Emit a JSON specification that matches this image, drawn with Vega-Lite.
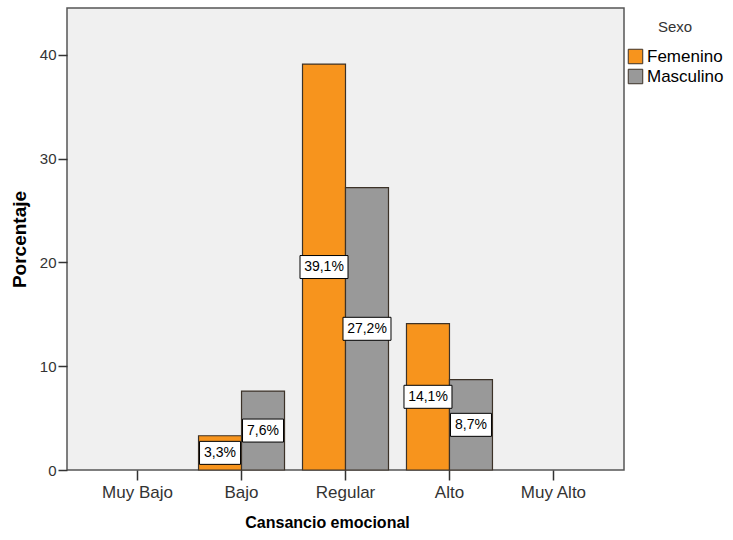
{
  "$schema": "https://vega.github.io/schema/vega-lite/v6.json",
  "width": 557,
  "height": 462,
  "autosize": "none",
  "padding": {"left": 67, "top": 8, "right": 109, "bottom": 70},
  "background": "white",
  "config": {
    "view": {"fill": "#f0f0f0", "stroke": "#555555", "strokeWidth": 1.5},
    "font": "Liberation Sans"
  },
  "data": {
    "values": [
      {"nivel": "Bajo", "sexo": "Femenino", "pct": 3.3, "label": "3,3%"},
      {"nivel": "Bajo", "sexo": "Masculino", "pct": 7.6, "label": "7,6%"},
      {"nivel": "Regular", "sexo": "Femenino", "pct": 39.1, "label": "39,1%"},
      {"nivel": "Regular", "sexo": "Masculino", "pct": 27.2, "label": "27,2%"},
      {"nivel": "Alto", "sexo": "Femenino", "pct": 14.1, "label": "14,1%"},
      {"nivel": "Alto", "sexo": "Masculino", "pct": 8.7, "label": "8,7%"}
    ]
  },
  "encoding": {
    "x": {
      "field": "nivel",
      "type": "nominal",
      "scale": {
        "domain": ["Muy Bajo", "Bajo", "Regular", "Alto", "Muy Alto"],
        "paddingInner": 0.173,
        "paddingOuter": 0.265
      },
      "axis": {
        "title": "Cansancio emocional",
        "titleFontSize": 16,
        "titleFontWeight": "bold",
        "titleColor": "#000000",
        "titlePadding": 14,
        "titleX": 260,
        "titleAlign": "center",
        "labelAngle": 0,
        "labelFontSize": 17,
        "labelColor": "#333333",
        "labelPadding": 4,
        "tickSize": 10,
        "tickColor": "#333333",
        "tickWidth": 1.5,
        "domain": false
      }
    },
    "xOffset": {"field": "sexo", "scale": {"paddingInner": 0, "paddingOuter": 0}}
  },
  "layer": [
    {
      "mark": {"type": "bar", "stroke": "#3c3228", "strokeWidth": 1.2},
      "encoding": {
        "y": {
          "field": "pct",
          "type": "quantitative",
          "scale": {"domain": [0, 44.5], "nice": false},
          "axis": {
            "title": "Porcentaje",
            "titleFontSize": 19,
            "titleFontWeight": "bold",
            "titleColor": "#000000",
            "titlePadding": 10,
            "values": [0, 10, 20, 30, 40],
            "grid": false,
            "domain": false,
            "labelFontSize": 15,
            "labelColor": "#333333",
            "labelPadding": 2,
            "tickSize": 9,
            "tickColor": "#333333",
            "tickWidth": 1.5
          }
        },
        "color": {
          "field": "sexo",
          "type": "nominal",
          "scale": {"domain": ["Femenino", "Masculino"], "range": ["#f7941d", "#999999"]},
          "legend": {
            "title": "Sexo",
            "orient": "none",
            "legendX": 560,
            "legendY": 12,
            "titleFontWeight": "normal",
            "titleFontSize": 15,
            "titleColor": "#333333",
            "titleAnchor": "middle",
            "titlePadding": 13,
            "labelFontSize": 17,
            "labelColor": "#000000",
            "labelOffset": 3,
            "symbolType": "square",
            "symbolSize": 210,
            "symbolStrokeColor": "#3c3228",
            "symbolStrokeWidth": 1,
            "symbolOpacity": 1,
            "rowPadding": 1
          }
        }
      }
    },
    {
      "mark": {"type": "point", "filled": true, "fill": "white", "stroke": "black", "strokeWidth": 1, "opacity": 1, "size": 400},
      "encoding": {
        "y": {"field": "pct", "type": "quantitative", "scale": {"domain": [0, 89], "nice": false}, "axis": null},
        "shape": {
          "field": "label",
          "type": "nominal",
          "legend": null,
          "scale": {
            "domain": ["3,3%", "7,6%", "8,7%", "39,1%", "27,2%", "14,1%"],
            "range": [
              "M-2.05,-1.15H2.05V1.15H-2.05Z",
              "M-2.05,-1.15H2.05V1.15H-2.05Z",
              "M-2.05,-1.15H2.05V1.15H-2.05Z",
              "M-2.4,-1.15H2.4V1.15H-2.4Z",
              "M-2.4,-1.15H2.4V1.15H-2.4Z",
              "M-2.4,-1.15H2.4V1.15H-2.4Z"
            ]
          }
        }
      }
    },
    {
      "mark": {"type": "text", "fontSize": 14, "color": "#000000", "baseline": "middle", "align": "center"},
      "encoding": {
        "y": {"field": "pct", "type": "quantitative", "scale": {"domain": [0, 89], "nice": false}, "axis": null},
        "text": {"field": "label"}
      }
    }
  ],
  "resolve": {"scale": {"y": "independent"}}
}
